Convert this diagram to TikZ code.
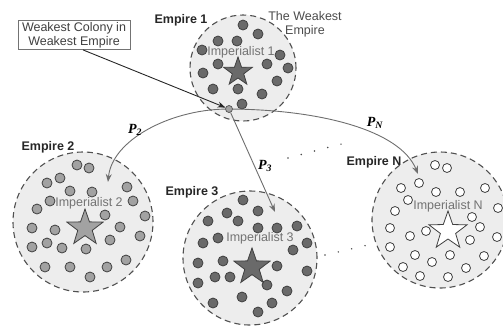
\documentclass[tikz,border=0pt]{standalone}
\usepackage{fontspec}
\setmainfont{Liberation Sans}
\newfontfamily\pfont{Liberation Serif}
\usetikzlibrary{arrows.meta,shapes.geometric}

\definecolor{empfill}{HTML}{EDEDED}
\definecolor{edge}{HTML}{505050}
\definecolor{darkdot}{HTML}{6A6A6A}
\definecolor{lightdot}{HTML}{A2A2A2}
\definecolor{linkgray}{HTML}{6E6E6E}

\begin{document}
\begin{tikzpicture}[x=1pt, y=-1pt, >={Stealth[length=8pt, width=6pt]},
  empire/.style={circle, draw=edge, fill=empfill, dash pattern=on 6pt off 4pt,
    line width=1.1pt, inner sep=0pt},
  colony/.style={draw=edge!80!black, line width=0.8pt},
  imp/.style={star, star points=5, star point ratio=2.5, inner sep=0pt,
    draw=edge!80!black, line width=0.8pt},
  lbl/.style={font=\fontsize{12.5}{14}\selectfont},
  title/.style={font=\fontsize{12.5}{14}\selectfont\bfseries, text=black!85},
  implbl/.style={font=\fontsize{12.5}{14}\selectfont, text=black!55},
  plbl/.style={font=\fontsize{14}{16}\selectfont\pfont\bfseries\itshape},
  link/.style={draw=linkgray, line width=0.9pt},
  dots/.style={line width=1.6pt, line cap=round, dash pattern=on 0pt off 13.7pt, black!70}]
  \useasboundingbox (0,0) rectangle (503,325);

  % empires
  \node[empire, minimum size=106pt] (emp1) at (243,68) {};
  \node[empire, minimum size=140pt] (emp2) at (83,222) {};
  \node[empire, minimum size=134pt] (emp3) at (250,258) {};
  \node[empire, minimum size=136pt] (empN) at (440,220) {};

  % colonies
  \foreach \x/\y in {243/25, 258/34, 218/41, 237/41, 202/50, 280/55, 218/64, 267/64,
      288/68, 203/73, 277/81, 213/89, 238/89, 262/94, 242/104}
    \draw[colony, fill=darkdot] (\x,\y) circle (5pt);
  \foreach \x/\y in {77/165, 89/168, 60/178, 47/183, 70/191, 92/192, 127/187, 50/201,
      133/201, 37/209, 105/215, 145/216, 32/228, 55/230, 120/227, 140/236, 110/240,
      32/247, 47/243, 62/248, 86/249, 126/260, 107/267, 45/267, 70/267, 90/277}
    \draw[colony, fill=lightdot] (\x,\y) circle (5pt);
  \foreach \x/\y in {243/200, 227/213, 258/211, 208/221, 238/221, 258/228, 277/228,
      297/226, 203/243, 218/238, 293/250, 307/243, 198/263, 223/261, 277/266, 307/271,
      198/283, 215/277, 230/277, 267/285, 287/291, 213/303, 242/297, 272/303, 258/312}
    \draw[colony, fill=darkdot] (\x,\y) circle (5pt);
  \foreach \x/\y in {435/165, 447/168, 419/183, 401/188, 436/192, 460/192, 485/188,
      408/200, 395/211, 472/217, 498/208, 390/228, 410/236, 426/231, 480/227, 497/237,
      470/240, 390/247, 415/255, 450/255, 484/256, 403/267, 432/262, 466/268, 420/276,
      448/277}
    \draw[colony, fill=white] (\x,\y) circle (4.5pt);

  % imperialists
  \node[imp, fill=darkdot, minimum size=30pt] (star1) at (238,72) {};
  \node[imp, fill=lightdot, minimum size=38pt] (star2) at (85,228) {};
  \node[imp, fill=darkdot, minimum size=38pt] (star3) at (252,267) {};
  \node[imp, fill=white, minimum size=40pt] (starN) at (448,231) {};

  \node[implbl] (imp1) at (241,52) {Imperialist 1};
  \node[implbl] (imp2) at (89,203) {Imperialist 2};
  \node[implbl] (imp3) at (260,238) {Imperialist 3};
  \node[implbl] (impN) at (448,206) {Imperialist N};

  \node[title] (t1) at (181,20) {Empire 1};
  \node[title] (t2) at (48,147) {Empire 2};
  \node[title] (t3) at (192,192) {Empire 3};
  \node[title] (tN) at (374,162) {Empire N};
  \node[lbl, text=black!70, align=center] (weak) at (305,24) {The Weakest\\Empire};

  \node[lbl, draw=black!55, line width=0.8pt, fill=white, align=center,
    minimum width=112pt, minimum height=29pt, inner sep=1pt, text=black!75]
    (box) at (74,35) {Weakest Colony in\\Weakest Empire};

  % weakest colony and its moves
  \node[circle, draw=edge, fill=lightdot, line width=0.7pt, minimum size=7pt,
    inner sep=0pt] (wc) at (229,109) {};
  \coordinate (e2in) at (108,182);
  \coordinate (e3in) at (275,212);
  \coordinate (eNin) at (418,174);

  \draw[->, black!85, line width=0.9pt] ([xshift=9pt]box.south) -- (wc);
  \draw[link, ->] (wc) .. controls (170,110) and (112,140) .. (e2in);
  \draw[link, ->] (wc) -- (e3in);
  \draw[link, ->] (wc) .. controls (320,110) and (400,130) .. (eNin);

  \node[plbl] (p2) at (135,130) {P\textsubscript{2}};
  \node[plbl] (p3) at (265,166) {P\textsubscript{3}};
  \node[plbl] (pN) at (375,123) {P\textsubscript{N}};

  % other empires
  \draw[dots] (288,158) -- (345,143);
  \draw[dots] (325,255) -- (368,245);
\end{tikzpicture}
\end{document}
